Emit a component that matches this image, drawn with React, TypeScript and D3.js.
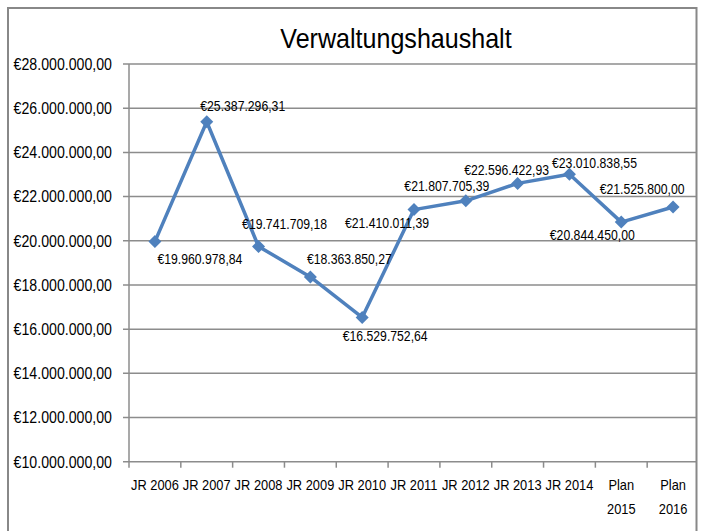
import React from "react";
import * as d3 from "d3";

const categories: string[][] = [
  ["JR 2006"], ["JR 2007"], ["JR 2008"], ["JR 2009"], ["JR 2010"], ["JR 2011"],
  ["JR 2012"], ["JR 2013"], ["JR 2014"], ["Plan", "2015"], ["Plan", "2016"],
];
const values: number[] = [
  19960978.84, 25387296.31, 19741709.18, 18363850.27, 16529752.64, 21410011.39,
  21807705.39, 22596422.93, 23010838.55, 20844450.0, 21525800.0,
];
const yTicks: number[] = [10e6, 12e6, 14e6, 16e6, 18e6, 20e6, 22e6, 24e6, 26e6, 28e6];
// label offsets relative to each point (dx, dy)
const labelDx: number[] = [45, 36, 26, 39, 23, -27, -19, -11, 25, -29, -31];
const labelDy: number[] = [18, -16, -22, -18, 19, 14, -15, -13, -11, 13, -18];

const fmt = (v: number) => {
  const [i, d] = v.toFixed(2).split(".");
  return "€" + i.replace(/\B(?=(\d{3})+(?!\d))/g, ".") + "," + d;
};

const W = 702, H = 531;
const FONT = "'Liberation Sans', Arial, sans-serif";
const SX = 0.88;

function T(props: { x: number; y: number; size: number; anchor?: string; children: React.ReactNode }) {
  return (
    <g transform={`translate(${props.x},${props.y}) scale(${SX},1)`}>
      <text x={0} y={0} textAnchor={props.anchor || "middle"} dominantBaseline="central"
        fontFamily={FONT} fontSize={props.size} fill="#000">{props.children}</text>
    </g>
  );
}

export default function App() {
  const left = 129, right = 699, top = 64, bottom = 461.7;
  const x = d3.scaleBand<number>().domain(d3.range(categories.length)).range([left, right]);
  const y = d3.scaleLinear().domain([10e6, 28e6]).range([bottom, top]);
  const line = d3.line<number>().x((_, i) => x(i)! + x.bandwidth() / 2).y((v) => y(v));
  const color = "#4F81BD";
  return (
    <svg width={W} height={H} style={{ position: "absolute", left: 0, top: 0 }}>
      <rect x={0} y={0} width={W} height={H} fill="#fff" />
      <defs>
        <clipPath id="clip">
          <rect x={0} y={0} width={696} height={H} />
        </clipPath>
      </defs>
      <g clipPath="url(#clip)">
        {yTicks.map((t) => (
          <line key={t} x1={left - 6} x2={right} y1={y(t)} y2={y(t)} stroke="#8c8c8c" strokeWidth={1.5} />
        ))}
        <line x1={left} x2={left} y1={top} y2={bottom} stroke="#8c8c8c" strokeWidth={1.5} />
        {d3.range(categories.length + 1).map((i) => {
          const xx = i < categories.length ? x(i)! : right;
          return <line key={i} x1={xx} x2={xx} y1={bottom} y2={bottom + 6} stroke="#8c8c8c" strokeWidth={1.5} />;
        })}
      </g>
      {yTicks.map((t) => (
        <T key={t} x={left - 17} y={y(t)} size={16.1} anchor="end">{fmt(t)}</T>
      ))}
      {categories.map((c, i) =>
        c.map((s, j) => (
          <T key={i + "-" + j} x={x(i)! + x.bandwidth() / 2} y={485 + j * 24} size={14.6}>{s}</T>
        ))
      )}
      <path d={line(values)!} fill="none" stroke={color} strokeWidth={3.5} strokeLinejoin="round" />
      {values.map((v, i) => {
        const cx = x(i)! + x.bandwidth() / 2, cy = y(v), r = 6.5;
        return <path key={i} d={`M${cx},${cy - r}L${cx + r},${cy}L${cx},${cy + r}L${cx - r},${cy}Z`} fill={color} />;
      })}
      {values.map((v, i) => (
        <T key={i} x={x(i)! + x.bandwidth() / 2 + labelDx[i]} y={y(v) + labelDy[i]} size={13.9}>{fmt(v)}</T>
      ))}
      <T x={396} y={38} size={28.5}>Verwaltungshaushalt</T>
      <path d={`M8,${H}V8H696.5V${H}`} fill="none" stroke="#888" strokeWidth={2} />
    </svg>
  );
}
